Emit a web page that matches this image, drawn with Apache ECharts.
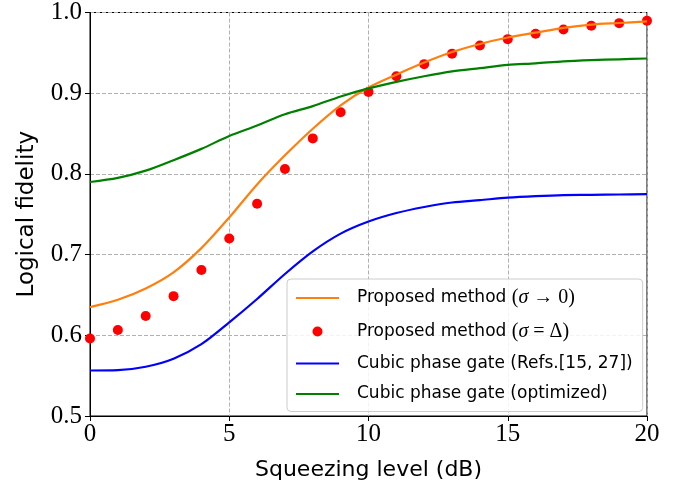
<!DOCTYPE html>
<html>
<head>
<meta charset="utf-8">
<script src="https://cdn.jsdelivr.net/npm/echarts@6/dist/echarts.min.js"></script>
<style>
  html, body { margin: 0; padding: 0; background: #fff; }
  #chart { width: 694px; height: 494px; }
</style>
</head>
<body>
<div id="chart"></div>
<script>
// squeezing level (dB)
const squeezing = [0, 1, 2, 3, 4, 5, 6, 7, 8, 9, 10, 11, 12, 13, 14, 15, 16, 17, 18, 19, 20];

// logical fidelity curves
const proposedLimit = [0.635, 0.644, 0.658, 0.678, 0.708, 0.746, 0.787, 0.823, 0.856, 0.885, 0.907,
  0.923, 0.938, 0.951, 0.961, 0.969, 0.975, 0.981, 0.985, 0.987, 0.989];
const proposedDelta = [0.596, 0.6065, 0.624, 0.6485, 0.681, 0.720, 0.763, 0.806, 0.844, 0.8765, 0.9016,
  0.921, 0.936, 0.949, 0.959, 0.967, 0.9737, 0.979, 0.9835, 0.9868, 0.9897];
const cubicRefs = [0.5564, 0.5568, 0.561, 0.571, 0.589, 0.616, 0.645, 0.676, 0.704, 0.726, 0.741,
  0.7515, 0.759, 0.7646, 0.7675, 0.7705, 0.7724, 0.7737, 0.774, 0.7745, 0.775];
const cubicOpt = [0.790, 0.795, 0.804, 0.817, 0.831, 0.847, 0.860, 0.874, 0.884, 0.896, 0.906,
  0.914, 0.921, 0.927, 0.931, 0.935, 0.937, 0.9395, 0.941, 0.942, 0.943];

const seriesNames = ['limit', 'delta', 'refs', 'opt'];
const legendLabels = {
  limit: '{s|Proposed method }{m|(}{i|σ}{m| → 0)}',
  delta: '{s|Proposed method }{m|(}{i|σ}{m| = Δ)}',
  refs: '{s|Cubic phase gate (Refs.[15, 27])}',
  opt: '{s|Cubic phase gate (optimized)}'
};

const pairs = ys => squeezing.map((x, i) => [x, ys[i]]);

const chart = echarts.init(document.getElementById('chart'));

const sansFont = 'DejaVu Sans';
const serifFont = 'Liberation Serif';

// line entries in the legend: hide the marker, keep the stroke
const legendData = seriesNames.map(n => n === 'delta' ? { name: n } : { name: n, itemStyle: { opacity: 0 } });

function lineSeries(name, ys, color) {
  return {
    name: name, type: 'line', data: pairs(ys),
    smooth: 0.3,
    symbol: 'none', lineStyle: { color: color, width: 2.2 }, itemStyle: { color: color }
  };
}

chart.setOption({
  animation: false,
  grid: {
    left: 90, right: 47, top: 11, bottom: 78,
    show: true, borderColor: '#000', borderWidth: 1
  },
  xAxis: {
    type: 'value', min: 0, max: 20, interval: 5,
    name: 'Squeezing level (dB)', nameLocation: 'middle', nameGap: 43,
    nameTextStyle: { fontFamily: sansFont, fontSize: 22, color: '#000' },
    axisLine: { lineStyle: { color: '#000' } },
    axisTick: { show: true, length: 5, lineStyle: { color: '#000' } },
    axisLabel: { fontFamily: serifFont, fontSize: 25, color: '#000', margin: 6 },
    splitLine: { show: true, lineStyle: { color: '#b0b0b0', type: [4, 2], width: 1 } }
  },
  yAxis: {
    type: 'value', min: 0.5, max: 1.0, interval: 0.1,
    name: 'Logical fidelity', nameLocation: 'middle', nameGap: 51,
    nameTextStyle: { fontFamily: sansFont, fontSize: 23, color: '#000' },
    axisLine: { show: true, lineStyle: { color: '#000' } },
    axisTick: { show: true, length: 5, lineStyle: { color: '#000' } },
    axisLabel: { fontFamily: serifFont, fontSize: 25, color: '#000', margin: 8,
      formatter: v => v.toFixed(1) },
    splitLine: { show: true, lineStyle: { color: '#b0b0b0', type: [4, 2], width: 1 } }
  },
  legend: {
    orient: 'vertical', left: 287, top: 279,
    padding: [9, 10, 9, 8],
    itemWidth: 43, itemHeight: 10, itemGap: 13.5,
    backgroundColor: 'rgba(255,255,255,0.85)',
    borderColor: '#cccccc', borderWidth: 1, borderRadius: 4,
    data: legendData,
    formatter: name => legendLabels[name],
    textStyle: {
      padding: [0, 0, 0, 13],
      rich: {
        s: { fontFamily: sansFont, fontSize: 17, color: '#000', lineHeight: 21 },
        m: { fontFamily: serifFont, fontSize: 20, color: '#000', lineHeight: 21 },
        i: { fontFamily: serifFont, fontSize: 20, fontStyle: 'italic', color: '#000', lineHeight: 21 }
      }
    }
  },
  series: [
    lineSeries('limit', proposedLimit, '#ff7f0e'),
    {
      name: 'delta', type: 'scatter', data: pairs(proposedDelta), symbolSize: 10,
      itemStyle: { color: '#ff0000', opacity: 1 }
    },
    lineSeries('refs', cubicRefs, '#0000ff'),
    lineSeries('opt', cubicOpt, '#008000')
  ]
});
</script>
</body>
</html>
